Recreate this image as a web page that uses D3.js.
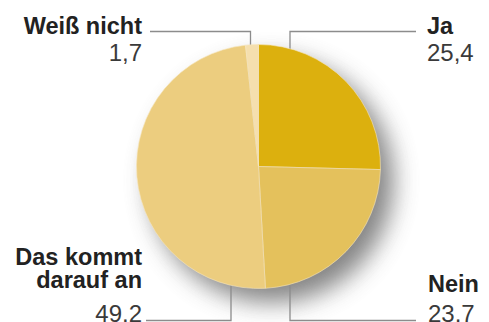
<!DOCTYPE html>
<html>
<head>
<meta charset="utf-8">
<script src="https://cdn.jsdelivr.net/npm/d3@7"></script>
<style>
  body { margin: 0; background: #fff; }
  svg { display: block; }
</style>
</head>
<body>
<div id="chart"></div>
<script>
// Umfrage: Antworten in Prozent
var categories = ["Ja", "Nein", "Das kommt darauf an", "Weiß nicht"];
var values = [25.4, 23.7, 49.2, 1.7];
var valueLabels = ["25,4", "23.7", "49.2", "1,7"];
var colors = ["#dcb00e", "#e4c15c", "#eccd7f", "#f5dfae"];

var width = 489, height = 322;
var cx = 258.5, cy = 166.5, r = 122;

var svg = d3.select("#chart").append("svg")
  .attr("width", width)
  .attr("height", height);

var defs = svg.append("defs");
defs.append("filter").attr("id", "blur")
  .attr("filterUnits", "userSpaceOnUse")
  .attr("x", 0).attr("y", 0).attr("width", width).attr("height", height)
  .append("feGaussianBlur").attr("stdDeviation", 12);

// label layout: where the leader line leaves the pie and where the text sits
var layout = [
  {lx: 290, ly: 31.5, ex: 416, anchor: "start", tx: 427, ty: 34, gap: 27},
  {lx: 290, ly: 320.5, ex: 416, anchor: "start", tx: 428, ty: 291.5, gap: 30.5},
  {lx: 231, ly: 320.5, ex: 146, anchor: "end", tx: 142, ty: 264.5, gap: 34.5},
  {lx: 250.5, ly: 31.5, ex: 150, anchor: "end", tx: 142, ty: 33.5, gap: 27}
];

var pie = d3.pie().sort(null).value(function(d) { return d; });
var arcs = pie(values);
var arc = d3.arc().innerRadius(0).outerRadius(r);

// soft shadow to the lower right
svg.append("circle")
  .attr("cx", cx + 13).attr("cy", cy + 14).attr("r", r)
  .attr("fill", "#707070")
  .attr("opacity", 0.85)
  .attr("filter", "url(#blur)");

// leader lines
var lines = svg.append("g");
categories.forEach(function(c, i) {
  var L = layout[i];
  lines.append("path")
    .attr("d", "M" + L.lx + "," + cy + "V" + L.ly + "H" + L.ex)
    .attr("fill", "none")
    .attr("stroke", "#8c8c8c")
    .attr("stroke-width", 1.3);
});

var slices = svg.append("g")
  .attr("transform", "translate(" + cx + "," + cy + ")");
slices.selectAll(".slice")
  .data(arcs)
  .enter().append("path")
  .attr("class", "slice")
  .attr("d", arc)
  .attr("fill", function(d, i) { return colors[i]; })
  .attr("stroke", "#f6e6bd")
  .attr("stroke-width", 0.6);

// labels
categories.forEach(function(c, i) {
  var L = layout[i];
  var words = c === "Das kommt darauf an" ? ["Das kommt", "darauf an"] : [c];
  var t = svg.append("text")
    .attr("text-anchor", L.anchor)
    .attr("font-family", "'Liberation Sans', Arial, sans-serif");
  words.forEach(function(w, j) {
    t.append("tspan")
      .attr("x", L.tx)
      .attr("y", L.ty + j * 23)
      .attr("font-size", 23.5)
      .attr("font-weight", "bold")
      .attr("fill", "#222")
      .text(w);
  });
  t.append("tspan")
    .attr("x", L.tx)
    .attr("y", L.ty + (words.length - 1) * 23 + L.gap)
    .attr("font-size", 24)
    .attr("fill", "#3a3a3a")
    .text(valueLabels[i]);
});
</script>
</body>
</html>
